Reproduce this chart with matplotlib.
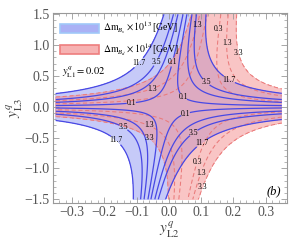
import numpy as np
import matplotlib as mpl
import matplotlib.pyplot as plt
from matplotlib.patches import Patch

mpl.rcParams['font.family'] = ['Liberation Serif', 'DejaVu Serif']
mpl.rcParams['mathtext.fontset'] = 'stix'

# contour levels (values shown on the curves)
levels_bs = [0.1, 1.3, 3.5, 11.7]     # Delta m_Bs x 1e13 GeV
levels_bd = [0.3, 1.3, 3.3]           # Delta m_Bd x 1e14 GeV
bound_bs = 11.7
bound_bd = 3.3

# fitted shape of the two mass differences:
# K*((x - a - p*y)*y)^2 / (1 + alpha*max(y,0)^2)
par_bs = dict(K=2080.0, a=-0.005, p=0.0367, alpha=0.31)
par_bd = dict(K=673.0, a=0.0925, p=0.0317, alpha=0.56)

x_range = (-0.35, 0.35)
y_range = (-1.5, 1.5)

# where the numbers sit on the curves (approx. as in the figure)
lab_bs = [(-0.10, 0.75), (-0.045, 0.75), (0.015, 0.72), (-0.115, 0.0), (0.05, 0.2),
          (0.05, -0.09), (0.115, 0.4), (0.185, 0.42), (-0.14, -0.33), (-0.165, -0.55),
          (0.075, -0.41), (0.1, -0.57)]
lab_bd = [(0.09, 1.33), (0.135, 1.27), (0.175, 1.03), (0.21, 0.87), (-0.05, 0.25),
          (-0.06, -0.27), (-0.06, -0.51), (0.077, -0.88), (0.095, -1.06), (0.105, -1.3)]


def delta_m(X, Y, K, a, p, alpha):
    return K * ((X - a - p * Y) * Y) ** 2 / (1 + alpha * np.clip(Y, 0, None) ** 2)


xx = np.linspace(*x_range, 501)
yy = np.linspace(*y_range, 501)
X, Y = np.meshgrid(xx, yy)
Zs = delta_m(X, Y, **par_bs)
Zd = delta_m(X, Y, **par_bd)

fig = plt.figure(figsize=(2.89, 2.44), dpi=100)
ax = fig.add_axes([0.182, 0.168, 0.811, 0.78])

ax.contourf(X, Y, Zs, levels=[0, bound_bs], colors=['#8f97f2'], alpha=0.5)
ax.contourf(X, Y, Zd, levels=[0, bound_bd], colors=['#f48c8c'], alpha=0.5)

cs_d = ax.contour(X, Y, Zd, levels=levels_bd, colors='#ea7b7b', linewidths=0.75,
                  linestyles=[(0, (4, 2.5))])
cs_s = ax.contour(X, Y, Zs, levels=levels_bs, colors='#4848e4', linewidths=0.9)
lbl = ax.clabel(cs_s, fmt='%g', fontsize=5.5, colors='k', inline=True, inline_spacing=0,
                manual=lab_bs)
lbl += ax.clabel(cs_d, fmt='%g', fontsize=5.5, colors='k', inline=True, inline_spacing=0,
                 manual=lab_bd)
for t in lbl:
    t.set_rotation(0)

ax.set_xlim(-0.36, 0.366)
ax.set_ylim(-1.56, 1.525)
ax.set_xticks([-0.3, -0.2, -0.1, 0.0, 0.1, 0.2, 0.3])
ax.set_yticks([-1.5, -1.0, -0.5, 0.0, 0.5, 1.0, 1.5])
fmt = mpl.ticker.FuncFormatter(lambda v, _: f'{v:.1f}'.replace('-', '\u2212'))
ax.xaxis.set_major_formatter(fmt)
ax.yaxis.set_major_formatter(fmt)
ax.xaxis.set_minor_locator(mpl.ticker.MultipleLocator(0.02))
ax.yaxis.set_minor_locator(mpl.ticker.MultipleLocator(0.1))
ax.tick_params(which='both', direction='in', top=True, right=True, colors='#999999',
               labelcolor='#555555', labelsize=10, pad=2)
ax.tick_params(which='major', length=4, width=0.6)
ax.tick_params(which='minor', length=2, width=0.5)
for s in ax.spines.values():
    s.set_color('#999999')
    s.set_linewidth(0.8)

ax.set_xlabel(r'$y^{q}_{\mathrm{L}2}$', fontsize=11, color='#444444', labelpad=1)
ax.set_ylabel(r'$y^{q}_{\mathrm{L}3}$', fontsize=11, color='#444444', labelpad=0)

handles = [Patch(facecolor='#aab1f5', edgecolor='#a0c8f8', lw=1.2),
           Patch(facecolor='#f6b2b2', edgecolor='#ee7e7e', lw=1.2)]
ax.legend(handles, [r'$\Delta\mathrm{m}_{B_s}\times10^{13}\,$[GeV]',
                    r'$\Delta\mathrm{m}_{B_d}\times10^{14}\,$[GeV]'],
          loc='upper left', fontsize=7, frameon=False, handlelength=4.0, handleheight=1.0,
          borderaxespad=0.35, labelspacing=0.55, handletextpad=0.4)
ax.text(0.04, 0.69, r'$y^{q}_{\mathrm{L}1}=0.02$', transform=ax.transAxes, fontsize=7.5,
        va='center')
ax.text(0.975, 0.045, '(b)', transform=ax.transAxes, fontsize=9, style='italic', ha='right')

fig.savefig('out.png', dpi=100)
